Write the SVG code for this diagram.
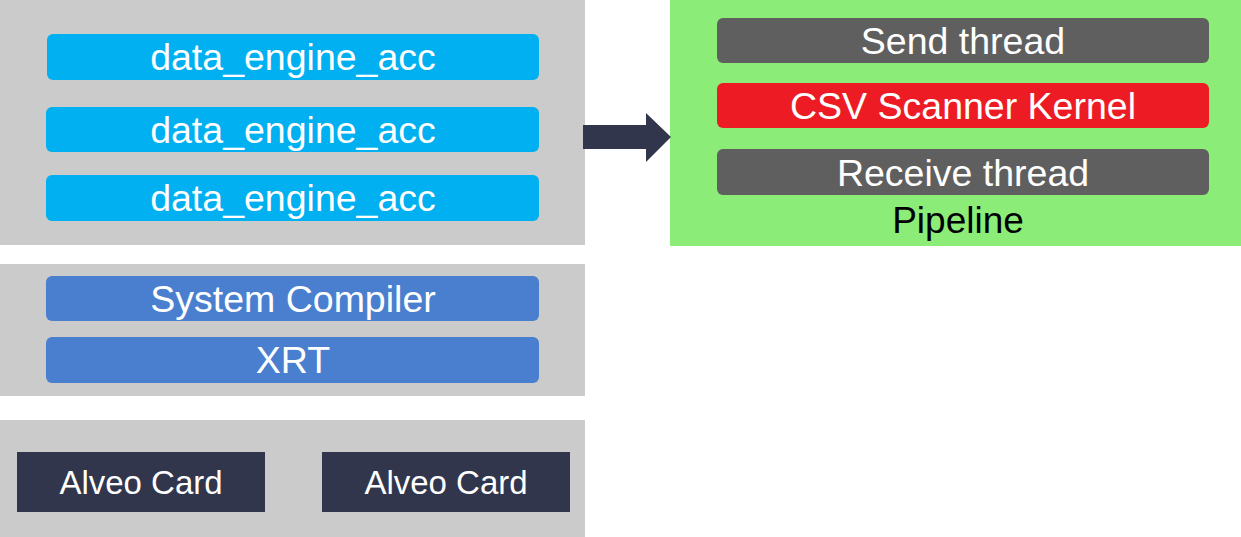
<svg xmlns="http://www.w3.org/2000/svg" width="1241" height="537" viewBox="0 0 1241 537">
<style>
.panel{fill:#CBCBCB}
.t{font-family:"Liberation Sans",Arial,sans-serif;text-anchor:middle;fill:#FFFFFF}
.big{font-size:37.5px}
.card{font-size:33px}
.acc{fill:#00B0F0}
.sys{fill:#4A7FD0}
.alveo{fill:#31364C}
.thr{fill:#5F5F5F}
</style>
<rect width="1241" height="537" fill="#FFFFFF"/>
<g id="host-panel">
<rect class="panel" x="0" y="0" width="585" height="245"/>
</g>
<g id="acc1"><rect class="acc" x="47" y="34" width="492" height="46" rx="6"/><text class="t big" x="293" y="70">data_engine_acc</text></g>
<g id="acc2"><rect class="acc" x="46" y="107" width="493" height="45" rx="6"/><text class="t big" x="293" y="143">data_engine_acc</text></g>
<g id="acc3"><rect class="acc" x="46" y="175" width="493" height="46" rx="6"/><text class="t big" x="293" y="211">data_engine_acc</text></g>
<g id="runtime-panel"><rect class="panel" x="0" y="264" width="585" height="132"/></g>
<g id="syscomp"><rect class="sys" x="46" y="276" width="493" height="45" rx="6"/><text class="t big" x="293" y="312">System Compiler</text></g>
<g id="xrt"><rect class="sys" x="46" y="337" width="493" height="46" rx="6"/><text class="t big" x="293" y="373">XRT</text></g>
<g id="hw-panel"><rect class="panel" x="0" y="420" width="585" height="117"/></g>
<g id="card1"><rect class="alveo" x="17" y="452" width="248" height="60"/><text class="t card" x="141" y="494">Alveo Card</text></g>
<g id="card2"><rect class="alveo" x="322" y="452" width="248" height="60"/><text class="t card" x="446" y="494">Alveo Card</text></g>
<g id="pipeline">
<rect x="670" y="0" width="571" height="246" fill="#8CEC78"/>
<text x="958" y="233" font-family="Liberation Sans, Arial, sans-serif" font-size="37" text-anchor="middle" fill="#000000">Pipeline</text>
</g>
<g id="send"><rect class="thr" x="717" y="18" width="492" height="45" rx="6"/><text class="t big" x="963" y="54">Send thread</text></g>
<g id="kernel"><rect x="717" y="83" width="492" height="45" rx="6" fill="#ED1C24"/><text class="t big" x="963" y="119">CSV Scanner Kernel</text></g>
<g id="recv"><rect class="thr" x="717" y="149" width="492" height="46" rx="6"/><text class="t big" x="963" y="186">Receive thread</text></g>
<g id="connectors">
<polygon points="583,125 646,125 646,113 671,137 646,162 646,149 583,149" fill="#31364C"/>
</g>
</svg>
